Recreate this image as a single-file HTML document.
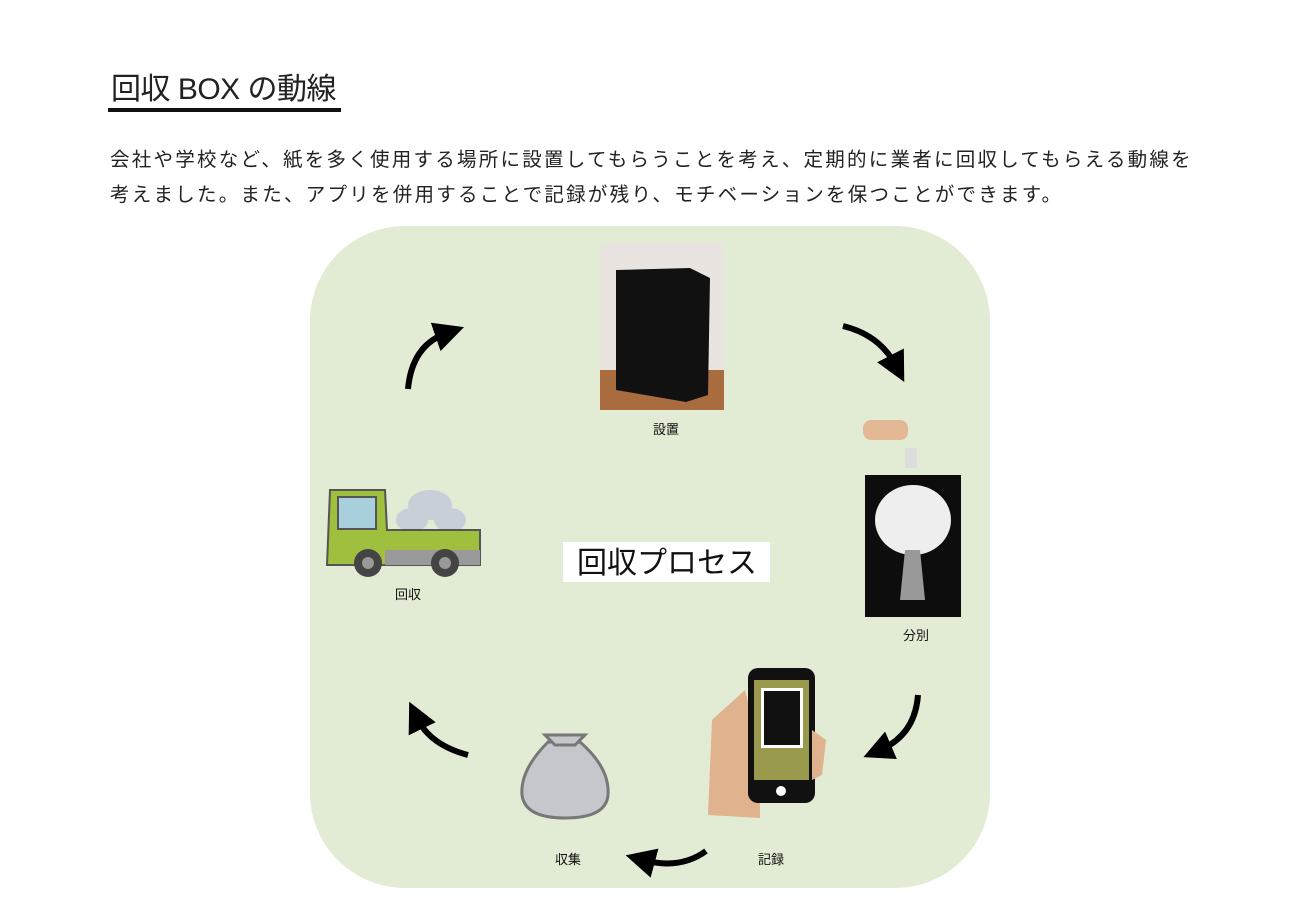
<!DOCTYPE html>
<html><head><meta charset="utf-8"><style>
body{margin:0;width:1300px;height:916px;background:#fff;position:relative;overflow:hidden;font-family:"Liberation Sans","Noto Sans CJK JP",sans-serif;color:#222}
.t{position:absolute;left:111px;top:70px;font-size:30px;line-height:40px;letter-spacing:-0.5px}
.ul{position:absolute;left:108px;top:108px;width:233px;height:4px;background:#111}
.p{position:absolute;left:110px;font-size:19.5px;letter-spacing:2.25px;white-space:nowrap}
</style></head><body>
<div class="t">回収 BOX の動線</div>
<div class="ul"></div>
<div class="p" style="top:143px">会社や学校など、紙を多く使用する場所に設置してもらうことを考え、定期的に業者に回収してもらえる動線を</div>
<div class="p" style="top:178px">考えました。また、アプリを併用することで記録が残り、モチベーションを保つことができます。</div>
<svg width="1300" height="916" style="position:absolute;left:0;top:0" font-family="Liberation Sans, Noto Sans CJK JP, sans-serif">
<defs><marker id="a" markerWidth="5" markerHeight="5" refX="2" refY="2.5" orient="auto" markerUnits="strokeWidth"><path d="M0,0 L5,2.5 L0,5 z" fill="#000"/></marker></defs>
<rect x="310" y="226" width="680" height="662" rx="95" fill="#e2ebd3"/>
<rect x="600" y="243" width="124" height="167" fill="#e9e4df"/>
<rect x="600" y="370" width="124" height="40" fill="#a86c3e"/>
<path d="M616 270 L690 268 L710 278 L708 395 L686 402 L616 390 Z" fill="#111"/>
<text x="666" y="434" font-size="13" text-anchor="middle" fill="#111">設置</text>
<rect x="863" y="420" width="45" height="20" rx="8" fill="#e3b894"/>
<rect x="905" y="448" width="12" height="20" fill="#ddd"/>
<rect x="865" y="475" width="96" height="142" fill="#0d0d0d"/>
<ellipse cx="913" cy="520" rx="38" ry="35" fill="#eee"/>
<path d="M905 550 L900 600 L925 600 L920 550 Z" fill="#999"/>
<text x="916" y="640" font-size="13" text-anchor="middle" fill="#111">分別</text>
<ellipse cx="430" cy="505" rx="22" ry="15" fill="#c8cfd8"/>
<ellipse cx="412" cy="520" rx="16" ry="12" fill="#c8cfd8"/>
<ellipse cx="450" cy="520" rx="16" ry="12" fill="#c8cfd8"/>
<path d="M330 490 L385 490 L387 530 L480 530 L480 565 L327 565 Z" fill="#9fbf3f" stroke="#555" stroke-width="2"/>
<rect x="338" y="497" width="38" height="32" fill="#a8d0dc" stroke="#555" stroke-width="2"/>
<rect x="385" y="550" width="95" height="15" fill="#9a9a9a"/>
<circle cx="368" cy="563" r="14" fill="#444"/><circle cx="368" cy="563" r="6" fill="#999"/>
<circle cx="445" cy="563" r="14" fill="#444"/><circle cx="445" cy="563" r="6" fill="#999"/>
<text x="408" y="599" font-size="13" text-anchor="middle" fill="#111">回収</text>
<rect x="563" y="542" width="207" height="40" fill="#fff"/>
<text x="667" y="573" font-size="30" text-anchor="middle" fill="#111">回収プロセス</text>
<path d="M708 815 L712 720 L745 690 L760 750 L760 818 Z" fill="#e0b28e"/>
<rect x="748" y="668" width="67" height="135" rx="10" fill="#111"/>
<rect x="754" y="680" width="55" height="100" fill="#9a9a4c"/>
<rect x="761" y="688" width="42" height="60" fill="#fff"/>
<rect x="764" y="691" width="36" height="54" fill="#111"/>
<circle cx="781" cy="791" r="5" fill="#fff"/>
<path d="M812 730 L826 740 L822 775 L812 780 Z" fill="#e0b28e"/>
<text x="771" y="864" font-size="13" text-anchor="middle" fill="#111">記録</text>
<path d="M548 742 Q520 770 522 795 Q525 818 565 818 Q606 818 608 795 Q610 768 580 742 Z" fill="#c4c8cc" stroke="#777" stroke-width="3"/>
<path d="M545 735 L585 735 L575 745 L555 745 Z" fill="#c4c8cc" stroke="#777" stroke-width="3"/>
<text x="568" y="864" font-size="13" text-anchor="middle" fill="#111">収集</text>
<g fill="none" stroke="#000" stroke-width="6" marker-end="url(#a)">
<path d="M408 389 Q412 345 447 333"/>
<path d="M843 326 Q880 335 896 366"/>
<path d="M918 695 Q915 735 880 750"/>
<path d="M706 851 Q680 870 643 860"/>
<path d="M468 755 Q430 745 417 718"/>
</g>
</svg>
</body></html>
